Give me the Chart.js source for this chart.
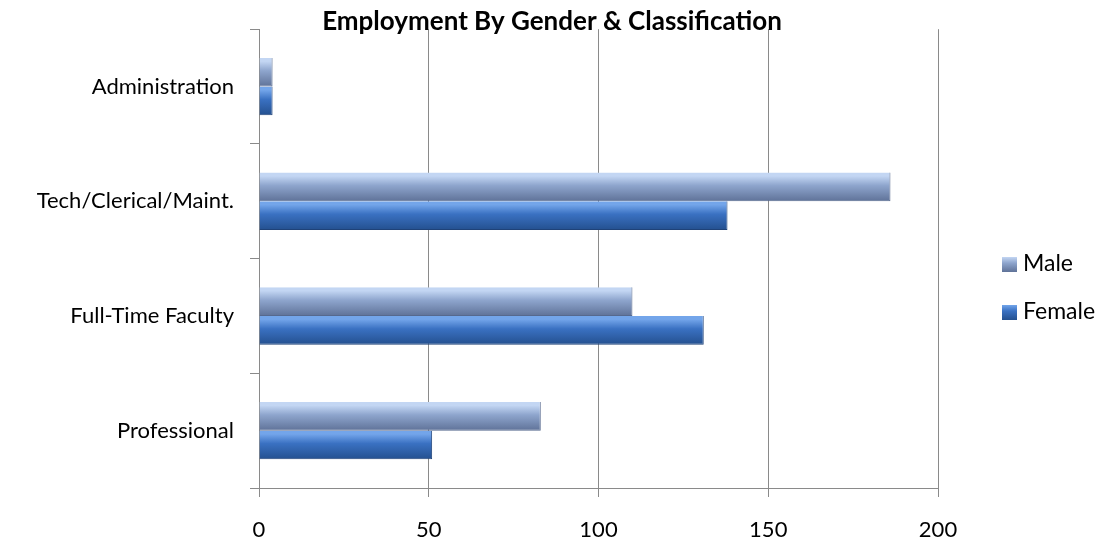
<!DOCTYPE html>
<html>
<head>
<meta charset="utf-8">
<script src="https://cdn.jsdelivr.net/npm/chart.js@4"></script>
<style>
  html, body { margin: 0; padding: 0; background: #fff; }
  #wrap { width: 1105px; height: 545px; }
</style>
</head>
<body>
<div id="wrap"><canvas id="genderChart" width="1105" height="545"></canvas></div>
<script>
// categories, top to bottom
const categories = ["Administration", "Tech/Clerical/Maint.", "Full-Time Faculty", "Professional"];
const maleValues = [4, 186, 110, 83];
const femaleValues = [4, 138, 131, 51];
const xTicks = [0, 50, 100, 150, 200];

const FONT = "Lato, 'Open Sans', sans-serif";
const GRID = "#8a8a8a";

// top / middle / bottom colours of the glassy bars
const maleStops = ["#c3d6f3", "#8ea5cd", "#5f7298"];
const femaleStops = ["#73a5ea", "#3a71c2", "#24508f"];

function barFill(context, stops, slot) {
  const chart = context.chart;
  const y = chart.scales && chart.scales.y;
  if (!y || context.dataIndex === undefined) return stops[1];
  const center = y.getPixelForValue(context.dataIndex);
  const band = Math.abs(y.getPixelForValue(1) - y.getPixelForValue(0));
  if (!isFinite(center) || !isFinite(band) || band === 0) return stops[1];
  const half = band * 0.25;
  const top = slot === 0 ? center - half : center;
  const g = chart.ctx.createLinearGradient(0, top, 0, top + half);
  g.addColorStop(0, stops[0]);
  g.addColorStop(0.12, stops[0]);
  g.addColorStop(0.45, stops[1]);
  g.addColorStop(1, stops[2]);
  return g;
}

// title overlaps the top of the plot, like the original
const titlePlugin = {
  id: "titleText",
  afterDraw(chart) {
    const c = chart.ctx;
    c.save();
    c.font = "bold 26px " + FONT;
    c.fillStyle = "#000";
    c.textAlign = "center";
    c.textBaseline = "alphabetic";
    c.fillText("Employment By Gender & Classification", 552, 30);
    c.restore();
  },
};

// legend drawn at the right, as in the original
const legendPlugin = {
  id: "sideLegend",
  afterDraw(chart) {
    const c = chart.ctx;
    const rows = [264, 312];
    c.save();
    chart.data.datasets.forEach(function (ds, i) {
      const stops = i === 0 ? maleStops : femaleStops;
      const x = 1002, y = rows[i];
      const g = c.createLinearGradient(0, y - 7, 0, y + 8);
      g.addColorStop(0, stops[0]);
      g.addColorStop(0.4, stops[1]);
      g.addColorStop(1, stops[2]);
      c.fillStyle = g;
      c.fillRect(x, y - 7, 15, 15);
      c.fillStyle = "#000";
      c.font = "23px " + FONT;
      c.textAlign = "left";
      c.textBaseline = "middle";
      c.fillText(ds.label, 1023, y);
    });
    c.restore();
  },
};

const ctx = document.getElementById("genderChart").getContext("2d");
const myChart = new Chart(ctx, {
  type: "bar",
  data: {
    labels: categories,
    datasets: [
      {
        label: "Male",
        data: maleValues,
        backgroundColor: function (c) { return barFill(c, maleStops, 0); },
        borderColor: "#56698e",
        borderWidth: { top: 0, bottom: 1, left: 0, right: 1 },
        categoryPercentage: 0.5,
        barPercentage: 1.0,
      },
      {
        label: "Female",
        data: femaleValues,
        backgroundColor: function (c) { return barFill(c, femaleStops, 1); },
        borderColor: "#1f4278",
        borderWidth: { top: 0, bottom: 1, left: 0, right: 1 },
        categoryPercentage: 0.5,
        barPercentage: 1.0,
      },
    ],
  },
  options: {
    indexAxis: "y",
    responsive: false,
    animation: false,
    layout: { padding: { top: 28, right: 167, left: 0, bottom: 0 } },
    scales: {
      x: {
        min: 0,
        max: 200,
        afterBuildTicks: function (axis) {
          axis.ticks = xTicks.map(function (v) { return { value: v }; });
        },
        afterFit: function (axis) { axis.height = 57; },
        ticks: {
          color: "#000",
          padding: 20,
          font: { family: FONT, size: 22 },
        },
        grid: { color: GRID, lineWidth: 1, tickLength: 9, tickColor: GRID },
        border: { color: GRID, width: 1 },
      },
      y: {
        afterFit: function (axis) { axis.width = 259; },
        ticks: {
          color: "#000",
          padding: 16,
          font: { family: FONT, size: 22 },
        },
        grid: {
          offset: true,
          drawOnChartArea: false,
          tickLength: 9,
          tickColor: GRID,
          color: GRID,
        },
        border: { color: GRID, width: 1 },
      },
    },
    plugins: {
      legend: { display: false },
      title: { display: false },
      tooltip: { enabled: false },
    },
  },
  plugins: [titlePlugin, legendPlugin],
});
</script>
</body>
</html>
